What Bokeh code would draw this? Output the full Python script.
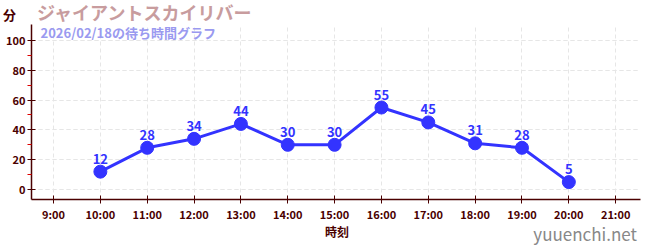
from bokeh.plotting import figure
from bokeh.layouts import column
from bokeh.models import FixedTicker, ColumnDataSource, Range1d, Label, Div, Grid
from bokeh.core.properties import value
from bokeh.embed import file_html
from bokeh.resources import INLINE

hours = [10, 11, 12, 13, 14, 15, 16, 17, 18, 19, 20]
waits = [12, 28, 34, 44, 30, 30, 55, 45, 31, 28, 5]
tick_hours = [9, 10, 11, 12, 13, 14, 15, 16, 17, 18, 19, 20, 21]
tick_labels = [f"{h}:00" for h in tick_hours]
y_ticks = [0, 20, 40, 60, 80, 100]
y_minor = [10, 30, 50, 70, 90]
band_edges = [20, 40, 60, 80]
title_text = "ジャイアントスカイリバー"
subtitle_text = "2026/02/18の待ち時間グラフ"
y_unit = "分"
x_label = "時刻"
site = "yuuenchi.net"

FONT = "Noto Sans CJK JP"
AX = "#4a0000"
W = 650
HEAD_H, MAIN_H, FOOT_H = 24, 200, 26


def span(text, left=None, right=None, top=0, size=13, color=AX, bold=True):
    pos = f"left:{left}px;" if left is not None else f"right:{right}px;"
    return (f'<span style="position:absolute;{pos}top:{top}px;font-family:\'{FONT}\';'
            f'font-size:{size}px;line-height:1;white-space:nowrap;color:{color};'
            f'font-weight:{"bold" if bold else "normal"};">{text}</span>')


def strip(h, spans):
    html = f'<div style="position:relative;width:{W}px;height:{h}px;overflow:visible;">' + "".join(spans) + "</div>"
    return Div(text=html, width=W, height=h, margin=(0, 0, 0, 0))


head = strip(HEAD_H, [
    span(y_unit, left=3, top=8, size=13, color=AX),
    span(title_text, left=37, top=3, size=18, color="#c89c9e"),
])

p = figure(width=W, height=MAIN_H, output_backend="svg", toolbar_location=None, title=None,
           x_range=Range1d(8.53, 21.53), y_range=Range1d(-6.67, 110.67),
           min_border_left=31, min_border_right=10, min_border_top=0, min_border_bottom=24)
p.outline_line_color = None

band_grid = Grid(dimension=1, ticker=FixedTicker(ticks=band_edges), grid_line_color=None,
                 band_fill_color="#f7f7f7", band_fill_alpha=1.0)
p.add_layout(band_grid)

src = ColumnDataSource(dict(x=hours, y=waits, t=[str(v) for v in waits]))
p.line("x", "y", source=src, line_color="#3333ff", line_width=3)
p.scatter("x", "y", source=src, size=13, fill_color="#3333ff", line_color="#3333ff")
p.text("x", "y", text="t", source=src, y_offset=-8, text_align="center", text_baseline="bottom",
       text_font=value(FONT), text_font_size="13px", text_font_style="bold", text_color="#3333ff")

p.add_layout(Label(x=9, y=167, x_units="screen", y_units="screen", text=subtitle_text,
                   text_font=FONT, text_font_size="13px", text_font_style="bold",
                   text_color="#9a9af0", text_baseline="middle"))

p.xaxis.ticker = FixedTicker(ticks=tick_hours)
p.xaxis.major_label_overrides = {h: l for h, l in zip(tick_hours, tick_labels)}
p.yaxis.ticker = FixedTicker(ticks=y_ticks, minor_ticks=y_minor)
for ax in (p.xaxis, p.yaxis):
    ax.axis_line_color = AX
    ax.axis_line_width = 1.5
    ax.major_tick_line_color = AX
    ax.major_tick_in = 4
    ax.major_tick_out = 4
    ax.major_label_text_color = AX
    ax.major_label_text_font = FONT
    ax.major_label_text_font_size = "11px"
    ax.major_label_text_font_style = "bold"
p.xaxis.minor_tick_line_color = None
p.yaxis.minor_tick_line_color = "#dd0000"
p.yaxis.minor_tick_out = 4
p.yaxis.minor_tick_in = 0
p.yaxis.major_label_standoff = 2
p.xaxis.major_label_standoff = 2

p.ygrid.ticker = FixedTicker(ticks=y_ticks)
p.xgrid.grid_line_color = "#e6e6e6"
p.xgrid.grid_line_dash = "4 3"
p.ygrid.grid_line_color = "#e6e6e6"
p.ygrid.grid_line_dash = "4 3"
p.ygrid.band_fill_color = None

foot = strip(FOOT_H, [
    span(x_label, left=325, top=2, size=12, color=AX),
    span(site, right=13, top=1, size=17, color="#888888", bold=False),
])

layout = column(head, p, foot, spacing=0)
open("out.html", "w").write(file_html(layout, INLINE))
